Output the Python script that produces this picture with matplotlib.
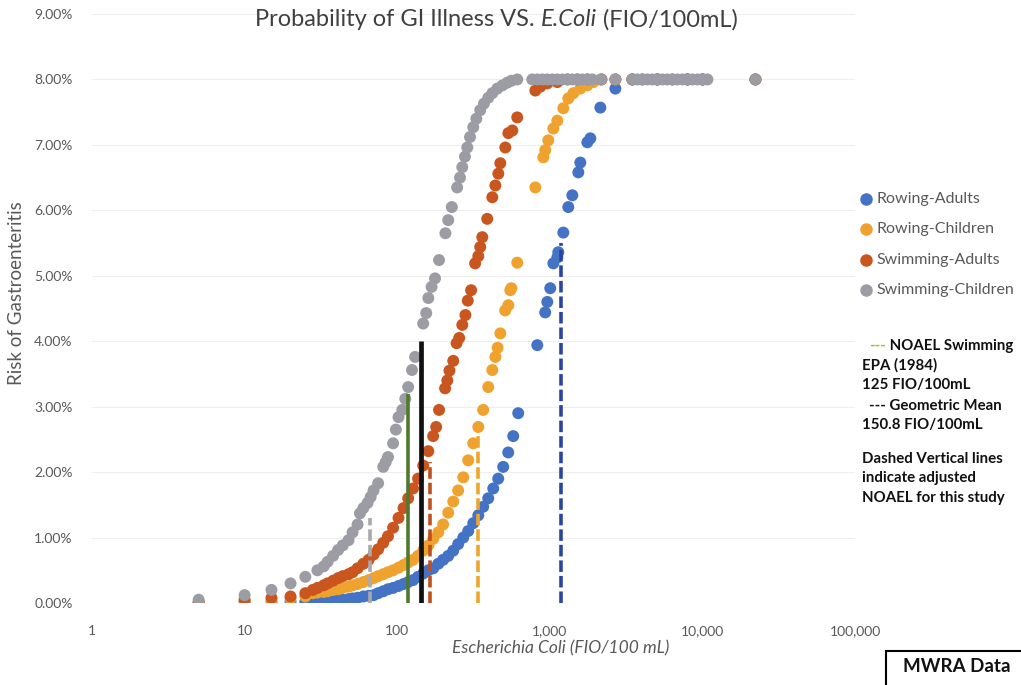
import matplotlib
matplotlib.use("Agg")
import matplotlib.pyplot as plt
from matplotlib.ticker import FuncFormatter, FixedLocator
from matplotlib.lines import Line2D
from matplotlib.patches import Rectangle

plt.rcParams['font.family'] = ['Lato', 'DejaVu Sans']

# E. coli (FIO/100mL) vs risk (%)
row_adult_x = [5, 10, 15, 20, 25, 28, 30, 33, 35, 38, 41, 44, 48, 51, 55, 60, 65, 70, 75, 81,
               87, 94, 102, 110, 118, 127, 137, 148, 160, 172, 186, 200, 216, 233, 251, 271,
               292, 315, 340, 366, 395, 426, 459, 495, 534, 576, 621, 828, 933, 963, 1007,
               1055, 1120, 1137, 1226, 1322, 1405, 1538, 1585, 1762, 1844, 2144, 2690,
               3475, 4041, 5070, 6360, 7980, 10020, 22270]
row_adult_y = [0.0, 0.01, 0.01, 0.02, 0.02, 0.02, 0.02, 0.02, 0.03, 0.03, 0.04, 0.05, 0.06, 0.07,
               0.08, 0.10, 0.11, 0.12, 0.15, 0.18, 0.21, 0.23, 0.26, 0.29, 0.32, 0.35, 0.40,
               0.45, 0.50, 0.53, 0.60, 0.66, 0.72, 0.80, 0.90, 1.00, 1.10, 1.22, 1.34, 1.47,
               1.60, 1.75, 1.90, 2.08, 2.30, 2.55, 2.90, 3.94, 4.44, 4.60, 4.81, 5.19, 5.28,
               5.36, 5.66, 6.05, 6.23, 6.58, 6.73, 7.04, 7.10, 7.57, 7.86,
               8.0, 8.0, 8.0, 8.0, 8.0, 8.0, 8.0]

row_child_x = [5, 10, 15, 20, 25, 28, 30, 33, 35, 38, 41, 44, 48, 51, 55, 60, 65, 70, 75, 81,
               87, 94, 102, 110, 118, 127, 137, 148, 160, 172, 186, 200, 216, 233, 251, 271,
               292, 315, 340, 366, 395, 420, 440, 455, 474, 510, 535, 551, 560, 612, 804,
               906, 934, 978, 1055, 1120, 1226, 1322, 1427, 1585, 1762, 1929,
               2177, 2690, 3475, 5070, 7980, 10020, 22270]
row_child_y = [0.0, 0.03, 0.05, 0.07, 0.10, 0.15, 0.16, 0.17, 0.18, 0.20, 0.21, 0.23, 0.25, 0.27,
               0.29, 0.32, 0.35, 0.38, 0.41, 0.44, 0.47, 0.50, 0.54, 0.58, 0.62, 0.66, 0.72,
               0.80, 0.88, 0.98, 1.08, 1.20, 1.38, 1.55, 1.72, 1.92, 2.18, 2.44, 2.69, 2.95,
               3.30, 3.56, 3.76, 3.90, 4.12, 4.47, 4.55, 4.78, 4.81, 5.20, 6.35, 6.81, 6.92,
               7.07, 7.25, 7.37, 7.56, 7.71, 7.79, 7.86, 7.91, 7.96,
               8.0, 8.0, 8.0, 8.0, 8.0, 8.0, 8.0]

swim_adult_x = [5, 10, 15, 20, 25, 28, 30, 33, 35, 38, 41, 44, 48, 51, 55, 60, 65, 70, 75, 81,
                87, 94, 102, 110, 118, 127, 137, 148, 160, 172, 180, 188, 206, 213, 220, 233,
                245, 255, 267, 280, 290, 305, 324, 340, 350, 361, 389, 420, 440, 460, 474,
                511, 535, 568, 612, 804, 867, 963, 1120, 1305, 1515, 1762, 2177, 2690,
                3475, 5070, 7980, 10020, 22270]
swim_adult_y = [0.01, 0.05, 0.08, 0.10, 0.15, 0.20, 0.23, 0.27, 0.30, 0.34, 0.38, 0.41, 0.44,
                0.47, 0.53, 0.60, 0.66, 0.74, 0.82, 0.92, 1.02, 1.15, 1.30, 1.45, 1.60, 1.75,
                1.90, 2.10, 2.32, 2.55, 2.69, 2.95, 3.28, 3.40, 3.55, 3.70, 3.97, 4.05, 4.25,
                4.40, 4.62, 4.78, 5.19, 5.30, 5.44, 5.59, 5.87, 6.20, 6.38, 6.56, 6.72, 6.96,
                7.18, 7.22, 7.42, 7.83, 7.89, 7.94, 7.96, 8.0, 8.0, 8.0, 8.0, 8.0,
                8.0, 8.0, 8.0, 8.0, 8.0]

swim_child_x = [5, 10, 15, 20, 25, 30, 33, 35, 38, 41, 44, 48, 51, 55, 57, 60, 64, 67, 70, 75,
                81, 84, 87, 94, 98, 102, 108, 113, 118, 125, 131, 148, 155, 160, 168, 177,
                188, 207, 216, 228, 247, 258, 267, 278, 288, 300, 315, 330, 350, 370, 395,
                420, 453, 490, 526, 560, 612,
                768, 828, 893, 963, 1040, 1120, 1210, 1305, 1405, 1515, 1635, 1762, 1900,
                2177, 2690, 3475, 3748, 4041, 4360, 4700, 5070, 5470, 5900, 6360, 6860,
                7400, 7980, 8610, 9290, 10020, 10790, 22270]
swim_child_y = [0.05, 0.12, 0.20, 0.30, 0.40, 0.50, 0.56, 0.63, 0.72, 0.81, 0.88, 0.96, 1.08,
                1.20, 1.37, 1.45, 1.53, 1.62, 1.72, 1.83, 2.08, 2.15, 2.23, 2.44, 2.65, 2.84,
                2.95, 3.12, 3.30, 3.56, 3.76, 4.27, 4.43, 4.66, 4.83, 4.96, 5.24, 5.65, 5.85,
                6.05, 6.35, 6.50, 6.66, 6.82, 6.96, 7.12, 7.27, 7.40, 7.53, 7.63, 7.72, 7.79,
                7.86, 7.91, 7.95, 7.98, 8.0,
                8.0, 8.0, 8.0, 8.0, 8.0, 8.0, 8.0, 8.0, 8.0, 8.0, 8.0, 8.0, 8.0,
                8.0, 8.0, 8.0, 8.0, 8.0, 8.0, 8.0, 8.0, 8.0, 8.0, 8.0, 8.0,
                8.0, 8.0, 8.0, 8.0, 8.0, 8.0, 8.0]

series_names = ["Rowing-Adults", "Rowing-Children", "Swimming-Adults", "Swimming-Children"]
series_colors = ["#4472c4", "#f0a22e", "#c9561f", "#9c9ca4"]

# vertical lines: x position, top (%), colour, style
vline_x = [66, 118, 144, 165, 340, 1190]
vline_top = [1.3, 3.2, 4.0, 2.15, 2.65, 5.5]
vline_colors = ["#a9a9ae", "#4f7a2c", "#111111", "#c0501c", "#f0a52a", "#2a45a0"]
vline_dashed = [True, False, False, True, True, True]

xticks = [1, 10, 100, 1000, 10000, 100000]
yticks = list(range(0, 10))

W, H = 1021, 685
fig = plt.figure(figsize=(W / 100, H / 100), dpi=100)
ax = fig.add_axes([92 / W, (H - 603) / H, (855 - 92) / W, (603 - 14) / H])

xs = [row_adult_x, row_child_x, swim_adult_x, swim_child_x]
ys = [row_adult_y, row_child_y, swim_adult_y, swim_child_y]
for x, y, c, n in zip(xs, ys, series_colors, series_names):
    ax.scatter(x, y, s=74, color=c, edgecolors="none", label=n, zorder=3)

for x, top, c, dashed in zip(vline_x, vline_top, vline_colors, vline_dashed):
    if dashed:
        ax.vlines(x, 0, top, colors=c, lw=2.6, linestyles=(0, (3.2, 1.1)), zorder=4)
    else:
        ax.vlines(x, 0, top, colors=c, lw=3.4 if c == "#111111" else 2.6, zorder=4)

ax.set_xscale("log")
ax.set_xlim(1, 100000)
ax.set_ylim(0, 9)
ax.xaxis.set_major_locator(FixedLocator(xticks))
ax.xaxis.set_minor_locator(FixedLocator([]))
ax.xaxis.set_major_formatter(FuncFormatter(lambda v, p: f"{v:,.0f}"))
ax.yaxis.set_major_locator(FixedLocator(yticks))
ax.yaxis.set_major_formatter(FuncFormatter(lambda v, p: f"{v:.2f}%"))
ax.tick_params(length=0, labelsize=10, labelcolor="#595959")
ax.tick_params(axis="x", pad=16)
ax.tick_params(axis="y", pad=14)
ax.grid(axis="y", color="#eeeeee", lw=0.8)
ax.set_axisbelow(True)
for s in ax.spines.values():
    s.set_visible(False)

# title with italic E.Coli
t1 = fig.text(255 / W, 1 - 20 / H, "Probability of GI Illness VS. ", fontsize=17,
              color="#404040", va="center", ha="left")
t2 = ax.annotate("E.Coli", xy=(1, 0), xycoords=t1, va="bottom", ha="left",
                 fontsize=17, color="#404040", style="italic", annotation_clip=False)
ax.annotate(" (FIO/100mL)", xy=(1, 0), xycoords=t2, va="bottom", ha="left",
            fontsize=17, color="#404040", annotation_clip=False)

fig.text(561 / W, 1 - 648 / H, "Escherichia Coli (FIO/100 mL)", style="italic",
         fontsize=12.5, color="#595959", ha="center", va="center")
fig.text(17 / W, 1 - 293 / H, "Risk of Gastroenteritis", rotation=90, fontsize=13.5,
         color="#595959", ha="center", va="center")

# legend drawn by hand
for i, (n, c) in enumerate(zip(series_names, series_colors)):
    yy = 1 - (199 + 30.3 * i) / H
    fig.add_artist(Line2D([866 / W], [yy], marker="o", markersize=8, color=c, lw=0,
                          transform=fig.transFigure))
    fig.text(876 / W, yy, n, fontsize=11.5, color="#595959", va="center", ha="left")

# notes
n1 = fig.text(869 / W, 1 - 346 / H, "---", fontsize=10.8, color="#a8b83a",
              fontweight="bold", va="center", ha="left")
ax.annotate(" NOAEL Swimming", xy=(1, 0), xycoords=n1, va="bottom", ha="left",
            fontsize=10.8, fontweight="bold", color="#111111", annotation_clip=False)
notes = [(365, "EPA (1984)"), (385, "125 FIO/100mL"), (406, "--- Geometric Mean"),
         (425, "150.8 FIO/100mL"), (459, "Dashed Vertical lines"),
         (478, "indicate adjusted"), (498, "NOAEL for this study")]
for yp, s in notes:
    x0 = 869 if s.startswith("---") else 862
    fig.text(x0 / W, 1 - yp / H, s, fontsize=10.8, fontweight="bold", color="#111111",
             va="center", ha="left")

# data source box
fig.add_artist(Rectangle((886 / W, -0.05), 0.2, (H - 651) / H + 0.05, transform=fig.transFigure,
                         facecolor="white", edgecolor="black", lw=1.5))
fig.text(903 / W, 1 - 666 / H, "MWRA Data", fontsize=13.5, fontweight="bold", color="#111111",
         va="center", ha="left")

fig.savefig("out.png", dpi=100)
